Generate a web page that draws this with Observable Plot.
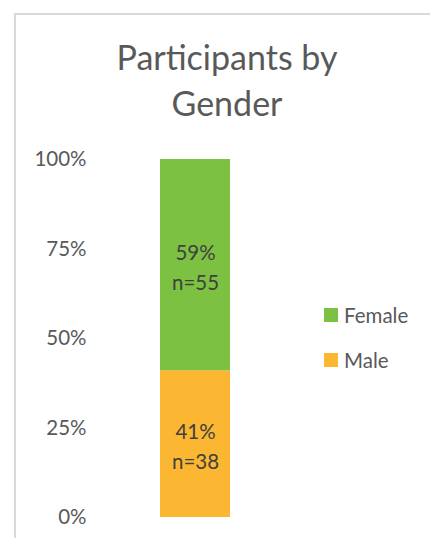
<!DOCTYPE html>
<html>
<head>
<meta charset="utf-8">
<script src="https://cdn.jsdelivr.net/npm/d3@7"></script>
<script src="https://cdn.jsdelivr.net/npm/@observablehq/plot@0.6"></script>
<style>
  html, body { margin: 0; padding: 0; background: #fff; overflow: hidden; }
  body { width: 430px; height: 538px; position: relative; font-family: Lato, "Open Sans", sans-serif; }
  #frame { position: absolute; left: 14px; top: 13px; width: 600px; height: 700px;
           border-left: 2px solid #D9D9D9; border-top: 2px solid #D9D9D9; box-sizing: border-box; }
  #chart { position: absolute; left: 0; top: 0; }
  #title { position: absolute; left: 24px; width: 406px; top: 34px; text-align: center;
           font-size: 34px; line-height: 46px; color: #595959; }
  #legend { position: absolute; left: 324px; top: 292px; }
  .lg-swatches { font-family: Lato, sans-serif !important; font-size: 20.5px !important; color: #595959; margin: 0 !important; }
  .lg-swatch { height: 45px; padding-bottom: 0 !important; }
  .lg-swatch > svg { margin-right: 6px !important; }
</style>
</head>
<body>
<div id="frame"></div>
<div id="chart"></div>
<div id="title">Participants by<br>Gender</div>
<div id="legend"></div>
<script>
const genders = ["Male", "Female"];
const shares = [41, 59];
const counts = [38, 55];
const legendOrder = ["Female", "Male"];
const legendColors = ["#7DC142", "#FBB731"];
const yTicks = [0, 25, 50, 75, 100];
const group = "All";

const data = genders.map((g, i) => ({gender: g, share: shares[i], n: counts[i], group}));
const colorScale = {domain: legendOrder, range: legendColors};

const chart = Plot.plot({
  width: 430,
  height: 538,
  marginTop: 159,
  marginBottom: 21,
  marginLeft: 160,
  marginRight: 200,
  style: {fontFamily: "Lato, sans-serif", background: "transparent", overflow: "visible"},
  x: {domain: [group], padding: 0, axis: null},
  y: {domain: [0, 100], axis: null, label: null},
  color: colorScale,
  marks: [
    Plot.barY(data, Plot.stackY({x: "group", y: "share", fill: "gender"})),
    Plot.text(data, Plot.stackY({
      x: "group", y: "share", z: "gender",
      text: d => `${d.share}%\nn=${d.n}`,
      fontSize: 20.5, lineHeight: 1.46, fill: "#404040"
    })),
    Plot.axisY(yTicks, {
      tickSize: 0, tickPadding: 74, tickFormat: d => d + "%",
      fontSize: 20.5, color: "#595959", label: null
    })
  ]
});
document.getElementById("chart").appendChild(chart);

const legend = Plot.legend({
  color: colorScale,
  className: "lg",
  columns: 1,
  swatchSize: 14
});
document.getElementById("legend").appendChild(legend);
</script>
</body>
</html>
